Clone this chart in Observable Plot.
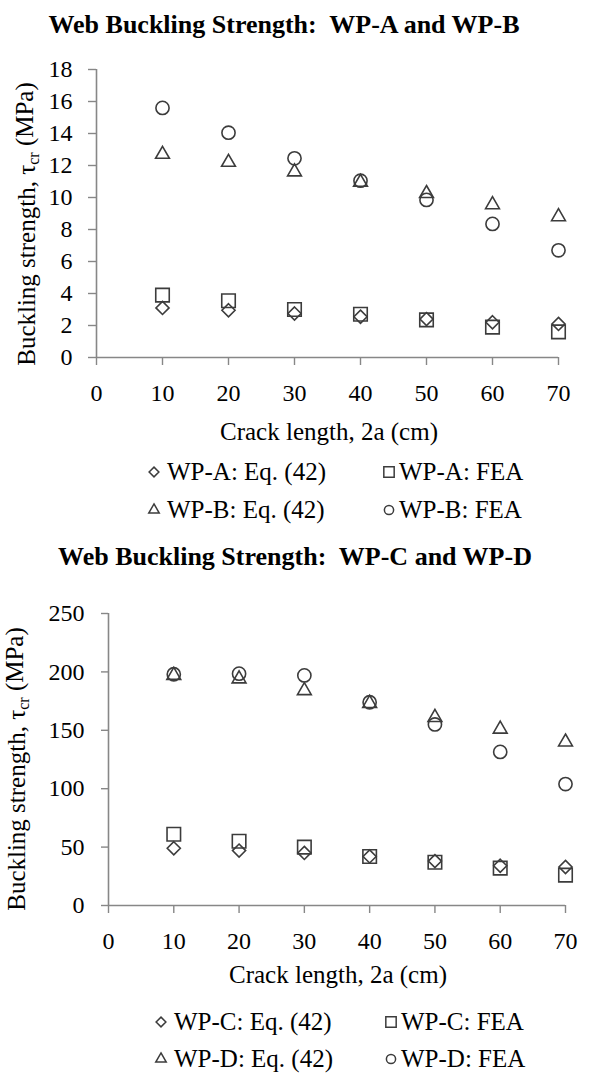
<!DOCTYPE html>
<html><head><meta charset="utf-8">
<script src="https://cdn.jsdelivr.net/npm/d3@7"></script>
<script src="https://cdn.jsdelivr.net/npm/@observablehq/plot@0.6"></script>
<style>
html,body{margin:0;padding:0;background:#fff;}
#page{position:relative;width:602px;height:1078px;overflow:hidden;background:#fff;}
#page > svg{position:absolute;left:0;}
</style></head><body><div id="page"></div>
<script>
// ---- data ----
const crackLength = [10, 20, 30, 40, 50, 60, 70];
const wpAEq  = [3.1, 2.95, 2.75, 2.55, 2.4, 2.2, 2.1];
const wpAFea = [3.9, 3.55, 3.0, 2.7, 2.35, 1.9, 1.6];
const wpBEq  = [12.7, 12.2, 11.6, 10.95, 10.25, 9.55, 8.8];
const wpBFea = [15.6, 14.05, 12.45, 11.05, 9.85, 8.35, 6.7];
const wpCEq  = [49, 47, 45, 42, 38, 34, 33];
const wpCFea = [61, 55, 50, 42, 37, 32, 26];
const wpDEq  = [197, 194, 184, 173, 161, 151, 140];
const wpDFea = [198, 198.5, 197, 174, 155, 131.5, 104];
const xTicks = [0, 10, 20, 30, 40, 50, 60, 70];
const yTicksTop = [0, 2, 4, 6, 8, 10, 12, 14, 16, 18];
const yTicksBottom = [0, 50, 100, 150, 200, 250];
const titleTop = "Web Buckling Strength:  WP-A and WP-B";
const titleBottom = "Web Buckling Strength:  WP-C and WP-D";
const xLabel = "Crack length, 2a (cm)";
const legendTop = ["WP-A: Eq. (42)", "WP-A: FEA", "WP-B: Eq. (42)", "WP-B: FEA"];
const legendBottom = ["WP-C: Eq. (42)", "WP-C: FEA", "WP-D: Eq. (42)", "WP-D: FEA"];

// ---- styles ----
const FONT = "'Liberation Serif','Times New Roman',serif";
const AXIS = "#878787";
const MARK = "#3c3c3c";
const symbols = [
  {name: "diamond2", d3s: d3.symbolDiamond2, r: 5.9, lr: 4.4},
  {name: "square2", d3s: d3.symbolSquare2, r: 8.6, lr: 6.6},
  {name: "triangle2", d3s: d3.symbolTriangle2, r: 6.6, lr: 5.0},
  {name: "circle", d3s: d3.symbolCircle, r: 6.6, lr: 4.6}
];

const page = document.getElementById("page");

function chart({top, height, yDomain, yTicks, series, marginLeft, marginRight, marginTop, marginBottom, yLabelX, yLabelY, xLabelX, xLabelY, yTickSize}) {
  const svg = Plot.plot({
    width: 602, height, marginLeft, marginRight, marginTop, marginBottom,
    style: {fontFamily: FONT, fontSize: "24px", color: "#000", background: "transparent", overflow: "visible"},
    x: {domain: [0, 70], label: null},
    y: {domain: yDomain, label: null},
    marks: [
      Plot.axisX(xTicks, {tickSize: 8, tickPadding: 18, stroke: AXIS, strokeWidth: 1.4, fill: "#000", label: null}),
      Plot.axisY(yTicks, {tickSize: yTickSize, tickPadding: 24 - yTickSize, stroke: AXIS, strokeWidth: 1.4, fill: "#000", label: null}),
      Plot.ruleY(yDomain.slice(0, 1), {stroke: AXIS, strokeWidth: 1.6}),
      Plot.ruleX([0], {stroke: AXIS, strokeWidth: 1.6}),
      ...series.map((ys, i) => Plot.dot(ys, {x: crackLength, y: ys, symbol: () => symbols[i].name, r: symbols[i].r, stroke: MARK, strokeWidth: 1.6, fill: "none"}))
    ]
  });
  svg.style.top = top + "px";
  const s = d3.select(svg);
  s.append("text").attr("x", xLabelX).attr("y", xLabelY).attr("text-anchor", "middle")
    .style("font-family", FONT).style("font-size", "25px").attr("fill", "#000").text(xLabel);
  const yl = s.append("text").attr("transform", `translate(${yLabelX},${yLabelY}) rotate(-90)`)
    .attr("text-anchor", "middle").style("font-family", FONT).style("font-size", "25px").attr("fill", "#000");
  yl.append("tspan").text("Buckling strength, \u03c4");
  yl.append("tspan").attr("dy", "0.25em").style("font-size", "16px").text("cr");
  yl.append("tspan").attr("dy", "-0.25em").text(" (MPa)");
  page.appendChild(svg);
}

chart({top: 0, height: 450, yDomain: [0, 18], yTicks: yTicksTop, series: [wpAEq, wpAFea, wpBEq, wpBFea],
  marginLeft: 96, marginRight: 44, marginTop: 69, marginBottom: 93, yTickSize: 8,
  yLabelX: 35, yLabelY: 224, xLabelX: 329, xLabelY: 440});
chart({top: 540, height: 470, yDomain: [0, 250], yTicks: yTicksBottom, series: [wpCEq, wpCFea, wpDEq, wpDFea],
  marginLeft: 108, marginRight: 37, marginTop: 73, marginBottom: 105, yTickSize: 7,
  yLabelX: 25, yLabelY: 229, xLabelX: 338, xLabelY: 443});

// titles and legends
const over = d3.create("svg").attr("width", 602).attr("height", 1078).style("top", "0px");
function title(text, x, y) {
  over.append("text").attr("x", x).attr("y", y).attr("text-anchor", "middle")
    .style("font-family", FONT).style("font-size", "26px").style("font-weight", "bold")
    .style("white-space", "pre").attr("fill", "#000").text(text);
}
function legend(labels, cols, rows) {
  labels.forEach((lab, i) => {
    const c = cols[i % 2], yb = rows[Math.floor(i / 2)];
    const sym = symbols[i];
    over.append("path").attr("d", d3.symbol(sym.d3s, Math.PI * sym.lr * sym.lr)())
      .attr("transform", `translate(${c.m},${yb - 8})`).attr("fill", "none").attr("stroke", MARK).attr("stroke-width", 1.5);
    over.append("text").attr("x", c.t).attr("y", yb).style("font-family", FONT).style("font-size", "25px")
      .attr("fill", "#000").text(lab);
  });
}
title(titleTop, 284, 33);
title(titleBottom, 295, 565);
legend(legendTop, [{m: 154, t: 167}, {m: 389, t: 399}], [480, 518]);
legend(legendBottom, [{m: 161, t: 174}, {m: 391, t: 401}], [1030, 1067]);
page.appendChild(over.node());
</script></body></html>
